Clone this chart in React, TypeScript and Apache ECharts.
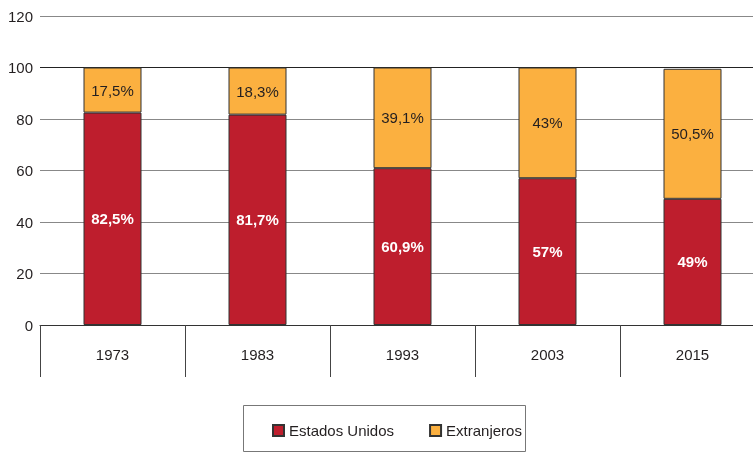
import React, { useEffect, useRef } from "react";
import * as echarts from "echarts";

const categories = ["1973", "1983", "1993", "2003", "2015"];
const estadosUnidos = [82.5, 81.7, 60.9, 57, 49];
const extranjeros = [17.5, 18.3, 39.1, 43, 50.5];
const yTicks = [0, 20, 40, 60, 80, 100, 120];

const fmt = (v: number) => String(v).replace(".", ",") + "%";

export default function App() {
  const ref = useRef<HTMLDivElement>(null);
  useEffect(() => {
    const chart = echarts.init(ref.current!, null, { renderer: "svg" });
    const font = "'Liberation Sans', Arial, sans-serif";
    chart.setOption({
      animation: false,
      textStyle: { fontFamily: font },
      grid: { left: 40, top: 16, width: 725, height: 309 },
      legend: {
        left: 267,
        top: 418,
        itemWidth: 11,
        itemHeight: 11,
        itemGap: 35,
        icon: "rect",
        textStyle: { fontSize: 15, color: "#231f20", fontFamily: font },
        data: ["Estados Unidos", "Extranjeros"],
      },
      graphic: [
        {
          type: "rect",
          shape: { x: 243.5, y: 405.5, width: 282, height: 46 },
          style: { fill: "none", stroke: "#777", lineWidth: 1 },
        },
      ],
      xAxis: {
        type: "category",
        data: categories,
        boundaryGap: true,
        axisLine: { lineStyle: { color: "#333", width: 1 } },
        axisTick: { show: true, length: 52, lineStyle: { color: "#444" } },
        axisLabel: { fontSize: 15, color: "#231f20", margin: 22, fontFamily: font },
      },
      yAxis: {
        type: "value",
        min: 0,
        max: 120,
        interval: 20,
        axisLine: { show: false },
        axisTick: { show: false },
        axisLabel: { fontSize: 15, color: "#231f20", margin: 7, fontFamily: font },
        splitLine: {
          lineStyle: {
            color: yTicks.map((t) => (t === 100 ? "#222" : "#888")),
            width: 1,
          },
        },
      },
      series: [
        {
          name: "Estados Unidos",
          type: "bar",
          stack: "total",
          barWidth: "40%",
          data: estadosUnidos,
          itemStyle: { color: "#BE1E2D", borderColor: "#333", borderWidth: 1 },
          label: {
            show: true,
            position: "inside",
            formatter: (p: any) => fmt(p.value),
            color: "#fff",
            fontWeight: "bold",
            fontSize: 15,
            fontFamily: font,
          },
        },
        {
          name: "Extranjeros",
          type: "bar",
          stack: "total",
          barWidth: "40%",
          data: extranjeros,
          itemStyle: { color: "#FBB040", borderColor: "#333", borderWidth: 1 },
          label: {
            show: true,
            position: "inside",
            formatter: (p: any) => fmt(p.value),
            color: "#231f20",
            fontSize: 15,
            fontFamily: font,
          },
        },
      ],
    });
    return () => chart.dispose();
  }, []);
  return (
    <div style={{ width: 753, height: 452, position: "fixed", left: 0, top: 0, overflow: "hidden" }}>
      <div ref={ref} style={{ width: 780, height: 452 }} />
    </div>
  );
}
